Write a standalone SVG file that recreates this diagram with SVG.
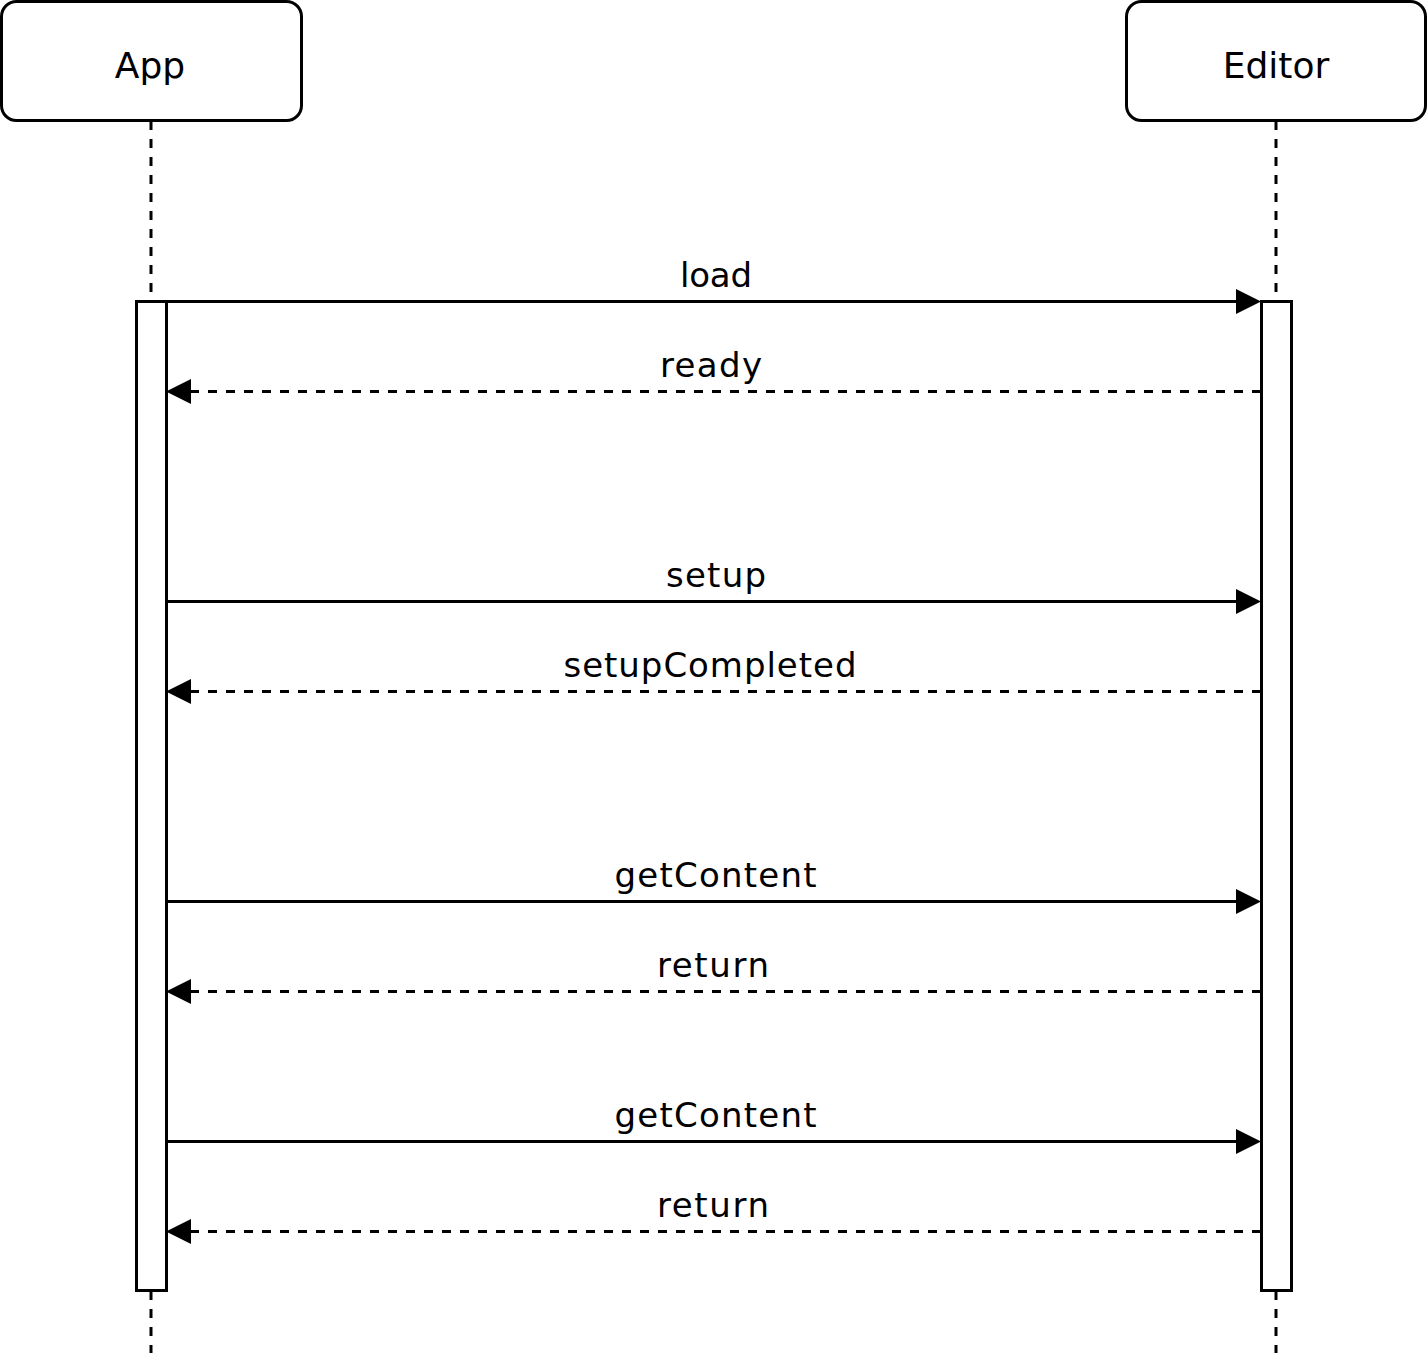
<svg xmlns="http://www.w3.org/2000/svg" width="1428" height="1353" viewBox="0 0 1428 1353">
<style>
.box{fill:#fff;stroke:#000;stroke-width:3}
.life{stroke:#000;stroke-width:3;stroke-dasharray:9 9;fill:none}
.act{fill:#fff;stroke:#000;stroke-width:3}
.msg{stroke:#000;stroke-width:3;fill:none;marker-end:url(#ah)}
.ret{stroke:#000;stroke-width:3;fill:none;stroke-dasharray:9 9;marker-end:url(#ah)}
.hdr{font-family:"DejaVu Sans",Verdana,sans-serif;font-size:36px;fill:#000;text-anchor:middle}
.lbl{font-family:"DejaVu Sans",Verdana,sans-serif;font-size:34px;fill:#000;text-anchor:middle}
</style>
<defs>
<marker id="ah" viewBox="0 0 25 25" refX="2" refY="12.5" markerWidth="25" markerHeight="25" markerUnits="userSpaceOnUse" orient="auto">
<path d="M0,0 L25,12.5 L0,25 Z" fill="#000"/>
</marker>
</defs>
<rect width="1428" height="1353" fill="#fff"/>
<g id="app">
<line class="life" x1="151" y1="121" x2="151" y2="301"/>
<line class="life" x1="151" y1="1291" x2="151" y2="1353"/>
<rect class="box" x="1.5" y="1.5" width="300" height="119" rx="15" ry="15"/>
<text class="hdr" x="150" y="78">App</text>
<rect class="act" x="136.5" y="301.5" width="30" height="989"/>
</g>
<g id="editor">
<line class="life" x1="1276" y1="121" x2="1276" y2="301"/>
<line class="life" x1="1276" y1="1291" x2="1276" y2="1353"/>
<rect class="box" x="1126.5" y="1.5" width="299" height="119" rx="15" ry="15"/>
<text class="hdr" x="1276" y="78">Editor</text>
<rect class="act" x="1261.5" y="301.5" width="30" height="989"/>
</g>
<g id="connectors">
<line class="msg" x1="166" y1="301.5" x2="1238" y2="301.5"/>
<line class="ret" x1="1261" y1="391.5" x2="189" y2="391.5"/>
<line class="msg" x1="166" y1="601.5" x2="1238" y2="601.5"/>
<line class="ret" x1="1261" y1="691.5" x2="189" y2="691.5"/>
<line class="msg" x1="166" y1="901.5" x2="1238" y2="901.5"/>
<line class="ret" x1="1261" y1="991.5" x2="189" y2="991.5"/>
<line class="msg" x1="166" y1="1141.5" x2="1238" y2="1141.5"/>
<line class="ret" x1="1261" y1="1231.5" x2="189" y2="1231.5"/>
<text class="lbl" x="716" y="287" textLength="72">load</text>
<text class="lbl" x="711" y="377" textLength="102">ready</text>
<text class="lbl" x="716" y="587" textLength="100">setup</text>
<text class="lbl" x="710" y="677" textLength="293">setupCompleted</text>
<text class="lbl" x="715.5" y="887" textLength="202">getContent</text>
<text class="lbl" x="713" y="977" textLength="112">return</text>
<text class="lbl" x="715.5" y="1127" textLength="202">getContent</text>
<text class="lbl" x="713" y="1217" textLength="112">return</text>
</g>
</svg>
